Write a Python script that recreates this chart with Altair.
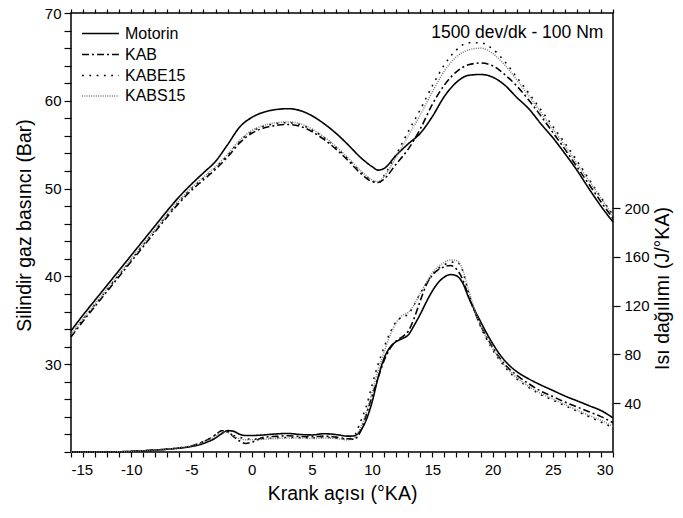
import altair as alt
import pandas as pd

FONT = "Liberation Sans"
SERIES = ["Motorin", "KAB", "KABE15", "KABS15"]
COLORS = ["#000000", "#000000", "#000000", "#7a7a7a"]
DASHES = [[1, 0], [7, 3, 2, 3], [1.8, 5.5], [1, 1.3]]
WIDTHS = [1.6, 1.5, 1.8, 1.1]
NOTE = "1500 dev/dk - 100 Nm"

# Cylinder gas pressure (bar)
P_X = [-15, -14, -13, -12, -11, -10, -9, -8, -7, -6, -5, -4, -3, -2, -1, 0, 1, 2, 3, 4,
       5, 6, 7, 8, 9, 10, 10.5, 11, 12, 13, 14, 15, 16, 17, 18, 19, 20, 21, 22, 23, 24,
       25, 26, 27, 28, 29, 30]
P_MOTORIN = [33.8, 35.6, 37.3, 39.0, 40.7, 42.4, 44.1, 45.8, 47.5, 49.1, 50.5, 51.8, 53.1,
             55.0, 57.0, 58.1, 58.7, 59.0, 59.1, 58.9, 58.3, 57.4, 56.3, 55.0, 53.6, 52.5,
             52.1, 52.3, 53.8, 55.1, 56.3, 58.2, 60.5, 62.1, 62.9, 63.0, 62.7, 61.8, 60.4,
             59.1, 57.4, 55.8, 54.0, 52.1, 50.0, 48.0, 46.2]
P_KAB = [33.1, 34.9, 36.6, 38.3, 40.0, 41.7, 43.4, 45.1, 46.8, 48.4, 49.8, 51.0, 52.2,
         53.6, 55.2, 56.3, 56.9, 57.2, 57.3, 57.1, 56.5, 55.6, 54.5, 53.2, 51.8, 50.8,
         50.7, 51.1, 52.8, 54.5, 56.8, 59.6, 61.8, 63.3, 64.1, 64.3, 64.0, 63.0, 61.7,
         60.1, 58.3, 56.4, 54.5, 52.5, 50.5, 48.5, 46.6]
P_KABE15 = [33.3, 35.1, 36.8, 38.5, 40.2, 41.9, 43.6, 45.3, 47.0, 48.6, 50.0, 51.2, 52.4,
            53.8, 55.4, 56.5, 57.1, 57.4, 57.5, 57.3, 56.7, 55.8, 54.7, 53.4, 52.0, 50.9,
            50.6, 51.5, 53.9, 56.5, 59.0, 61.7, 64.1, 65.8, 66.6, 66.6, 65.9, 64.5, 62.7,
            60.9, 59.0, 57.1, 55.2, 53.2, 51.1, 49.0, 47.0]
P_KABS15 = [33.4, 35.2, 36.9, 38.6, 40.3, 42.0, 43.7, 45.4, 47.1, 48.7, 50.1, 51.3, 52.5,
            53.9, 55.5, 56.6, 57.2, 57.5, 57.6, 57.4, 56.8, 55.9, 54.8, 53.5, 52.1, 51.0,
            50.8, 51.4, 53.6, 56.0, 58.4, 61.0, 63.4, 65.0, 65.8, 66.0, 65.4, 64.1, 62.4,
            60.6, 58.7, 56.8, 54.9, 52.9, 50.9, 48.9, 46.9]

# Heat release (J/°KA)
HR_X = [-15, -14, -13, -12, -11, -10, -9, -8, -7, -6, -5, -4, -3,
        -2.5, -2, -1.5, -1, -0.5,
        0, 1, 2, 3, 4, 5, 6, 7, 8,
        8.5, 9, 9.5, 10, 10.5, 11, 11.5, 12, 12.5, 13, 13.5, 14, 14.5, 15, 15.5, 16, 16.5,
        17, 17.5, 18,
        19, 20, 21, 22, 23, 24, 25, 26, 27, 28, 29, 30]
HR_MOTORIN = [0, 0, 0, 0, 0.2, 0.5, 1.0, 1.6, 2.3, 3.2, 4.5, 7.0, 11.5,
              15.0, 17.5, 17.0, 14.5, 13.5,
              13.5, 14.0, 14.8, 15.2, 14.4, 14.0, 15.0, 14.3, 13.0,
              13.2, 17, 26, 41, 61, 77, 86, 90.5, 93, 96, 104, 113, 123, 132, 139, 143.5,
              145.5, 144.5, 139, 127,
              107, 89, 75, 66, 60, 55, 50.5, 46, 42, 38, 34, 28]
HR_KAB = [0, 0, 0, 0, 0.2, 0.5, 1.0, 1.6, 2.3, 3.3, 5.0, 8.5, 14.0,
          17.5, 17, 12.5, 9, 7,
          8, 12, 12.8, 13.3, 12.8, 12.5, 13.0, 12.2, 10.8,
          10.5, 16, 30, 46, 61, 75, 85, 91, 94.5, 99, 110, 124, 137, 145, 149.5, 152, 153,
          150, 142, 128,
          104, 86, 72, 63, 56, 50, 45.5, 41, 37, 33, 29, 24]
HR_KABE15 = [0, 0, 0, 0, 0.2, 0.5, 1.0, 1.6, 2.4, 3.4, 5.0, 8.5, 14.0,
             17.5, 16.5, 13.5, 12, 11,
             10.5, 11, 11.5, 12, 11.8, 11.5, 12, 11.5, 10.5,
             13, 24, 37, 55, 72, 86, 98, 107, 110.5, 113, 121, 130, 138, 145.5, 150.5,
             153.5, 155.5, 156, 149, 131,
             103, 84, 70, 60, 53, 47, 42.5, 38, 33.5, 29, 24.5, 20]
HR_KABS15 = [0, 0, 0, 0, 0.2, 0.5, 1.0, 1.6, 2.4, 3.4, 5.0, 8.0, 13.0,
             16.5, 16, 13, 11, 10,
             10, 10.5, 11, 11.5, 11.5, 11, 11.5, 11, 10,
             11, 19, 32, 49, 67, 82, 96, 106, 112, 114.5, 121, 130, 139, 147, 152, 155.5,
             157.5, 157, 150, 133,
             104, 85, 71, 61, 54, 48, 43.5, 39, 34.5, 30, 26, 21]


def to_long(xs, lists, name):
    rows = []
    for s, vals in zip(SERIES, lists):
        for i, (x, v) in enumerate(zip(xs, vals)):
            rows.append({"x": x, name: v, "fuel": s, "i": i})
    return pd.DataFrame(rows)


p_df = to_long(P_X, [P_MOTORIN, P_KAB, P_KABE15, P_KABS15], "p")
hr_df = to_long(HR_X, [HR_MOTORIN, HR_KAB, HR_KABE15, HR_KABS15], "hr")

W, H = 542, 439

leg = alt.Legend(title=None, orient="none", legendX=19, legendY=10,
                 symbolType="M-2,0H2", symbolSize=342, labelFontSize=16,
                 labelFont=FONT, labelColor="black", labelOffset=14, padding=0,
                 rowPadding=2)

color = alt.Color("fuel:N", scale=alt.Scale(domain=SERIES, range=COLORS), legend=leg)
dash = alt.StrokeDash("fuel:N", scale=alt.Scale(domain=SERIES, range=DASHES), legend=leg)
sw = alt.StrokeWidth("fuel:N", scale=alt.Scale(domain=SERIES, range=WIDTHS), legend=leg)

x_scale = alt.Scale(domain=[-15, 30], nice=False, zero=False)
p_scale = alt.Scale(domain=[20, 70], nice=False, zero=False)

pressure = alt.Chart(p_df).mark_line(interpolate="monotone").encode(
    x=alt.X("x:Q", scale=x_scale,
            axis=alt.Axis(orient="bottom", values=list(range(-15, 31)),
                          labelExpr="datum.value % 5 == 0 ? '' + datum.value : ''",
                          labelOverlap=False, tickSize=5, labelPadding=5,
                          domain=False, title="Krank açısı (°KA)", titlePadding=7)),
    y=alt.Y("p:Q", scale=p_scale,
            axis=alt.Axis(values=list(range(20, 71, 2)),
                          labelExpr="datum.value % 10 == 0 && datum.value > 20 ? datum.label : ''",
                          labelOverlap=False, tickSize=7, labelPadding=3, domain=False,
                          title="Silindir gaz basıncı (Bar)", titlePadding=10,
                          titleY=212, titleAlign="center")),
    color=color, strokeDash=dash, strokeWidth=sw, order="i:Q",
)

heat = alt.Chart(hr_df).mark_line(interpolate="monotone").encode(
    x=alt.X("x:Q", scale=x_scale,
            axis=alt.Axis(orient="top", values=list(range(-15, 31)), labels=False,
                          tickSize=4, domain=False, title=None)),
    y=alt.Y("hr:Q", scale=alt.Scale(domain=[0, 360], nice=False, zero=False),
            axis=alt.Axis(orient="right", values=[40, 80, 120, 160, 200], tickSize=7,
                          labelPadding=4, domain=False, title="Isı dağılımı  (J/°KA)",
                          titleAngle=270, titleX=49, titleY=275, titleBaseline="middle",
                          titleAlign="center")),
    color=color, strokeDash=dash, strokeWidth=sw, order="i:Q",
)

note = alt.Chart(pd.DataFrame({"t": [NOTE]})).mark_text(
    align="right", baseline="alphabetic", font=FONT, fontSize=17.5, color="black"
).encode(
    x=alt.XDatum(29.2, scale=x_scale, axis=None),
    y=alt.YDatum(67.15, scale=p_scale, axis=None),
    text="t:N",
)

chart = alt.layer(pressure, heat, note).resolve_scale(y="independent").resolve_axis(
    x="independent"
).properties(
    width=W, height=H,
    padding={"left": 71, "top": 13, "right": 70, "bottom": 66},
    autosize=alt.AutoSizeParams(type="none"),
).configure_view(stroke="black", strokeWidth=1.5).configure_axis(
    grid=False, labelFont=FONT, titleFont=FONT, labelFontSize=15, titleFontSize=19.5,
    labelColor="black", titleColor="black", tickColor="black", titleFontWeight="normal",
    tickWidth=1.2,
)

chart.save("out.html", embed_options={"renderer": "svg", "actions": False})
